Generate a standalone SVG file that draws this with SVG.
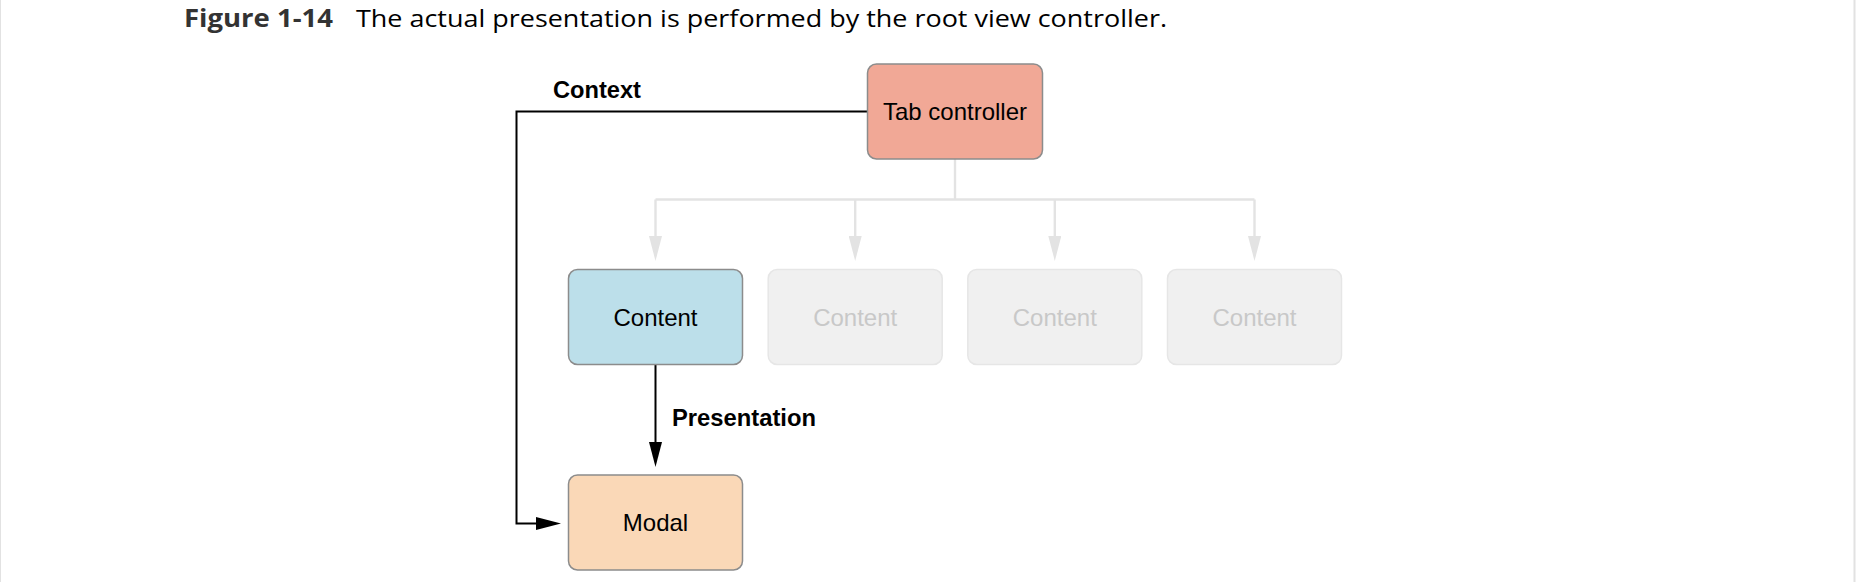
<svg xmlns="http://www.w3.org/2000/svg" width="1856" height="582" viewBox="0 0 1856 582">
  <style>
    .box { stroke: #8c8c8c; stroke-width: 1.5; }
    .ghost { fill: #f0f0f0; stroke: #e6e6e6; stroke-width: 1.5; }
    .lbl { font-family: "Liberation Sans", Arial, sans-serif; font-size: 24px; text-anchor: middle; fill: #000; }
    .glbl { font-family: "Liberation Sans", Arial, sans-serif; font-size: 24px; text-anchor: middle; fill: #c8c8c8; }
    .elbl { font-family: "Liberation Sans", Arial, sans-serif; font-size: 24px; font-weight: bold; fill: #000; }
    .conn { fill: none; stroke: #000; stroke-width: 2; }
    .gconn { fill: none; stroke: #e3e3e3; stroke-width: 2.4; }
  </style>
  <defs>
    <marker id="arrow" viewBox="0 0 25 13" markerWidth="25" markerHeight="13" markerUnits="userSpaceOnUse" refX="5" refY="6.5" orient="auto">
      <path d="M0,0 L25,6.5 L0,13 z" fill="#000"/>
    </marker>
    <marker id="garrow" viewBox="0 0 25 13" markerWidth="25" markerHeight="13" markerUnits="userSpaceOnUse" refX="5" refY="6.5" orient="auto">
      <path d="M0,0 L25,6.5 L0,13 z" fill="#e3e3e3"/>
    </marker>
  </defs>
  <rect x="0" y="0" width="1856" height="582" fill="#ffffff"/>
  <line x1="0.5" y1="0" x2="0.5" y2="582" stroke="#e2e2e2" stroke-width="1"/>
  <line x1="1854.5" y1="0" x2="1854.5" y2="582" stroke="#e2e2e2" stroke-width="2"/>

  <g id="title">
    <text x="184" y="26.5" font-family="'Open Sans', 'Noto Sans', sans-serif" font-size="24.5" font-weight="bold" fill="#333333" textLength="149" lengthAdjust="spacingAndGlyphs">Figure 1-14</text>
    <text x="356" y="26.5" font-family="'Open Sans', 'Noto Sans', sans-serif" font-size="24.5" fill="#000000" textLength="811" lengthAdjust="spacingAndGlyphs">The actual presentation is performed by the root view controller.</text>
  </g>

  <g id="connectors">
    <path class="gconn" d="M955,159 V199.5"/>
    <path class="gconn" d="M655.5,199.5 H1254.5"/>
    <path class="gconn" d="M655.5,199.5 V241" marker-end="url(#garrow)"/>
    <path class="gconn" d="M855.2,199.5 V241" marker-end="url(#garrow)"/>
    <path class="gconn" d="M1054.8,199.5 V241" marker-end="url(#garrow)"/>
    <path class="gconn" d="M1254.5,199.5 V241" marker-end="url(#garrow)"/>
    <path class="conn" d="M867.5,111.5 H516.5 V523.5 H541" marker-end="url(#arrow)"/>
    <path class="conn" d="M655.5,364 V447" marker-end="url(#arrow)"/>
    <text class="elbl" x="553" y="98" textLength="88" lengthAdjust="spacingAndGlyphs">Context</text>
    <text class="elbl" x="672" y="426" textLength="144" lengthAdjust="spacingAndGlyphs">Presentation</text>
  </g>

  <g id="tab-controller">
    <rect class="box" x="867.5" y="64" width="175" height="95" rx="9" fill="#f1a896"/>
    <text class="lbl" x="955" y="120">Tab controller</text>
  </g>
  <g id="content-1">
    <rect class="box" x="568.5" y="269.5" width="174" height="95" rx="9" fill="#bcdfea"/>
    <text class="lbl" x="655.5" y="325.5">Content</text>
  </g>
  <g id="content-2">
    <rect class="ghost" x="768.2" y="269.5" width="174" height="95" rx="9"/>
    <text class="glbl" x="855.2" y="325.5">Content</text>
  </g>
  <g id="content-3">
    <rect class="ghost" x="967.8" y="269.5" width="174" height="95" rx="9"/>
    <text class="glbl" x="1054.8" y="325.5">Content</text>
  </g>
  <g id="content-4">
    <rect class="ghost" x="1167.5" y="269.5" width="174" height="95" rx="9"/>
    <text class="glbl" x="1254.5" y="325.5">Content</text>
  </g>
  <g id="modal">
    <rect class="box" x="568.5" y="475" width="174" height="95" rx="9" fill="#fad8b7"/>
    <text class="lbl" x="655.5" y="530.5">Modal</text>
  </g>
</svg>
